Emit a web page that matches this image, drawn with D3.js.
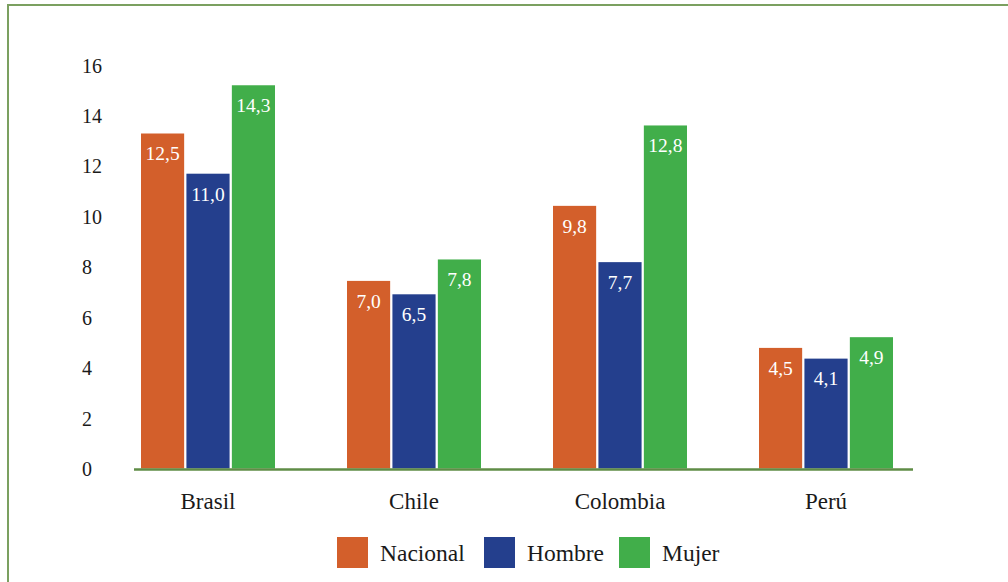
<!DOCTYPE html>
<html><head><meta charset="utf-8">
<script src="https://cdn.jsdelivr.net/npm/d3@7"></script>
</head><body style="margin:0">
<svg id="chart" width="1008" height="582" style="display:block;font-family:'Liberation Serif'"></svg>
<script>
const categories = ["Brasil", "Chile", "Colombia", "Perú"];
const seriesNames = ["Nacional", "Hombre", "Mujer"];
const nacional = [12.5, 7.0, 9.8, 4.5];
const hombre = [11.0, 6.5, 7.7, 4.1];
const mujer = [14.3, 7.8, 12.8, 4.9];
const yTicks = [0, 2, 4, 6, 8, 10, 12, 14, 16];
const colors = ["#D35F2B", "#243F8D", "#41AE4A"];

const seriesValues = [nacional, hombre, mujer];
const svg = d3.select("#chart");
const font = "Liberation Serif";

function serif(sel, size) {
  sel.attr("font-family", font).style("font-family", `"${font}"`).style("font-size", size + "px");
  return sel;
}

// frame
svg.append("rect").attr("x", 8).attr("y", 5).attr("width", 1100).attr("height", 700)
  .attr("fill", "none").attr("stroke", "#7ba060").attr("stroke-width", 2);

const baseY = 468.5;
const x0 = d3.scaleBand().domain(categories).range([105, 929]);
const x1 = d3.scaleBand().domain(seriesNames).range([-67, 67]).paddingInner(0.05);
// axis scale (tick labels)
const yAxisScale = d3.scaleLinear().domain([0, 16]).range([baseY, 65]);
// bar scale as drawn in the reference
const yBar = d3.scaleLinear().domain([0, 16]).range([baseY, baseY - 16 * 26.8]);

// y tick labels
const yAxis = d3.axisLeft(yAxisScale).tickValues(yTicks).tickSize(0).tickPadding(0)
  .tickFormat(d3.format("d"));
const gy = svg.append("g").attr("transform", "translate(102,0)").call(yAxis);
gy.attr("font-family", font).attr("font-size", 20);
gy.select(".domain").remove();
serif(gy.selectAll("text"), 20).attr("fill", "#1a1a1a")
  .attr("text-anchor", "start").attr("x", -20).attr("dy", "0.35em");

// bars
const groups = svg.selectAll("g.grp").data(categories).enter().append("g")
  .attr("class", "grp")
  .attr("transform", d => `translate(${x0(d) + x0.bandwidth() / 2},0)`);

groups.each(function (cat, ci) {
  const g = d3.select(this);
  seriesNames.forEach((s, si) => {
    const v = seriesValues[si][ci];
    g.append("rect")
      .attr("x", x1(s)).attr("width", x1.bandwidth())
      .attr("y", yBar(v)).attr("height", baseY - yBar(v))
      .attr("fill", colors[si]);
    serif(g.append("text"), 19.5)
      .attr("x", x1(s) + x1.bandwidth() / 2)
      .attr("y", yBar(v) + 20).attr("dy", "0.35em")
      .attr("text-anchor", "middle")
      .attr("fill", "#fff").text(d3.format(".1f")(v).replace(".", ","));
  });
});

// baseline
svg.append("line").attr("x1", 134).attr("x2", 913).attr("y1", baseY + 1).attr("y2", baseY + 1)
  .attr("stroke", "#5f8c46").attr("stroke-width", 2.5);

// category labels
const xAxis = d3.axisBottom(x0).tickSize(0).tickPadding(0);
const gx = svg.append("g").attr("transform", "translate(0,501)").call(xAxis);
gx.attr("font-family", font).attr("font-size", 23);
gx.select(".domain").remove();
serif(gx.selectAll("text"), 23).attr("fill", "#1a1a1a").attr("dy", "0.35em");

// legend
const legendX = [337, 484, 619];
const lg = svg.selectAll("g.leg").data(seriesNames).enter().append("g").attr("class", "leg")
  .attr("transform", (d, i) => `translate(${legendX[i]},537)`);
lg.append("rect").attr("width", 31).attr("height", 31).attr("fill", (d, i) => colors[i]);
serif(lg.append("text"), 23.5).attr("x", 43).attr("y", 16).attr("dy", "0.35em")
  .attr("fill", "#1a1a1a").text(d => d);
</script>
</body></html>
